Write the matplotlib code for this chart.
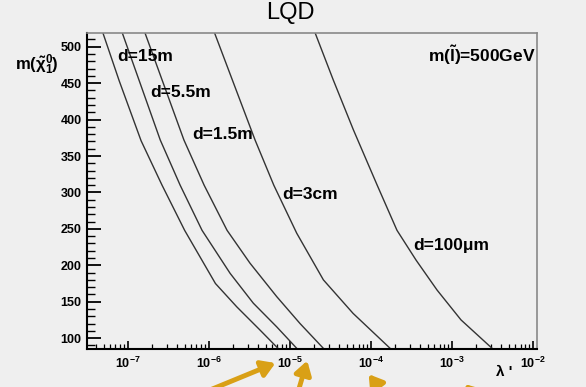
import matplotlib
matplotlib.use("Agg")
import matplotlib.pyplot as plt
from matplotlib.ticker import LogLocator, MultipleLocator, NullFormatter

# ---------------- Data ----------------
# neutralino mass (GeV) vs lambda' for fixed decay lengths
mass_15m = [519, 453, 371, 310, 248, 175, 143, 111, 86]
lam_15m = [4.9e-8, 7.8e-8, 1.45e-7, 2.63e-7, 5.0e-7, 1.2e-6, 2.2e-6, 4.27e-6, 7.1e-6]

mass_5p5m = [519, 372, 310, 248, 189, 148, 115.5, 86]
lam_5p5m = [8.5e-8, 2.5e-7, 4.4e-7, 8.2e-7, 1.82e-6, 3.52e-6, 6.85e-6, 1.21e-5]

mass_1p5m = [519, 372, 310, 248, 203, 157, 120, 86]
lam_1p5m = [1.62e-7, 4.9e-7, 8.7e-7, 1.67e-6, 3.2e-6, 6.85e-6, 1.33e-5, 2.58e-5]

mass_3cm = [519, 372, 310, 244, 180, 134, 86]
lam_3cm = [1.17e-6, 3.7e-6, 6.3e-6, 1.21e-5, 2.58e-5, 6.0e-5, 1.72e-4]

mass_100um = [519, 455, 386, 310, 248, 207, 166, 125, 86]
lam_100um = [2.04e-5, 3.4e-5, 6.05e-5, 1.19e-4, 2.09e-4, 3.6e-4, 6.53e-4, 1.29e-3, 3.12e-3]

curve_labels = ["d=15m", "d=5.5m", "d=1.5m", "d=3cm", "d=100\u03bcm"]
# label anchor (axes fraction), left edge / vertical centre
label_pos = [(0.067, 0.924), (0.14, 0.81), (0.233, 0.680), (0.433, 0.490), (0.724, 0.329)]

# ---------------- Style ----------------
BG = "#efefef"
plt.rcParams["font.family"] = ["Liberation Sans", "DejaVu Sans"]
plt.rcParams["font.weight"] = "bold"
plt.rcParams["mathtext.fontset"] = "custom"
plt.rcParams["mathtext.rm"] = "Liberation Sans:bold"
plt.rcParams["mathtext.it"] = "Liberation Sans:bold"
plt.rcParams["mathtext.bf"] = "Liberation Sans:bold"

fig = plt.figure(figsize=(5.86, 3.87), dpi=100, facecolor=BG)
ax = fig.add_axes([0.1485, 0.098, 0.768, 0.817], facecolor=BG)

curves = [(lam_15m, mass_15m), (lam_5p5m, mass_5p5m), (lam_1p5m, mass_1p5m),
          (lam_3cm, mass_3cm), (lam_100um, mass_100um)]
for lam, m in curves:
    ax.plot(lam, m, color="#333333", lw=1.0)

for txt, (xa, ya) in zip(curve_labels, label_pos):
    ax.text(xa, ya, txt, transform=ax.transAxes, fontsize=12.5, fontweight="bold",
            ha="left", va="center")
ax.text(0.996, 0.930, r"m($\tilde{\rm l}$)=500GeV", transform=ax.transAxes,
        fontsize=12.5, fontweight="bold", ha="right", va="center")

ax.set_xscale("log")
ax.set_xlim(3.12e-8, 1.12e-2)
ax.set_ylim(85, 519)

ax.xaxis.set_major_locator(LogLocator(base=10, numticks=20))
ax.xaxis.set_minor_locator(LogLocator(base=10, subs=range(2, 10), numticks=20))
ax.xaxis.set_minor_formatter(NullFormatter())
ax.yaxis.set_major_locator(MultipleLocator(50))
ax.yaxis.set_minor_locator(MultipleLocator(10))

ax.tick_params(axis="both", which="both", direction="in", top=False, right=False,
               labelsize=9, colors="black")
ax.tick_params(axis="y", which="major", length=10, width=1.3, pad=4)
ax.tick_params(axis="y", which="minor", length=5.5, width=1.0)
ax.tick_params(axis="x", which="major", length=6, width=1.2, pad=5)
ax.tick_params(axis="x", which="minor", length=3.5, width=0.9)
for lab in ax.get_yticklabels():
    lab.set_fontweight("bold")

ax.spines["left"].set_linewidth(1.5)
ax.spines["bottom"].set_linewidth(1.5)
for s in ("top", "right"):
    ax.spines[s].set_color("#888888")
    ax.spines[s].set_linewidth(1.2)

fig.text(0.495, 0.966, "LQD", fontsize=17, fontweight="normal", ha="center", va="center")
fig.text(0.063, 0.832, r"m($\tilde{\chi}^0_1$)", fontsize=12, fontweight="bold",
         ha="center", va="center")
fig.text(0.86, 0.039, "\u03bb '", fontsize=11, fontweight="bold", ha="center", va="center")

# orange slide arrows at the bottom
ARROW = "#d9a016"
arrows = [((205, -5), (278, 25)), ((298, -5), (308, 29)),
          ((382, -5), (367, 15)), ((472, -5), (463, 5))]
for tail, tip in arrows:
    ax.annotate("", xy=tip, xytext=tail, xycoords="figure pixels",
                textcoords="figure pixels", annotation_clip=False,
                arrowprops=dict(arrowstyle="-|>,head_length=0.8,head_width=0.5",
                                color=ARROW, lw=3.5))

fig.savefig("out.png", dpi=100, facecolor=BG)
